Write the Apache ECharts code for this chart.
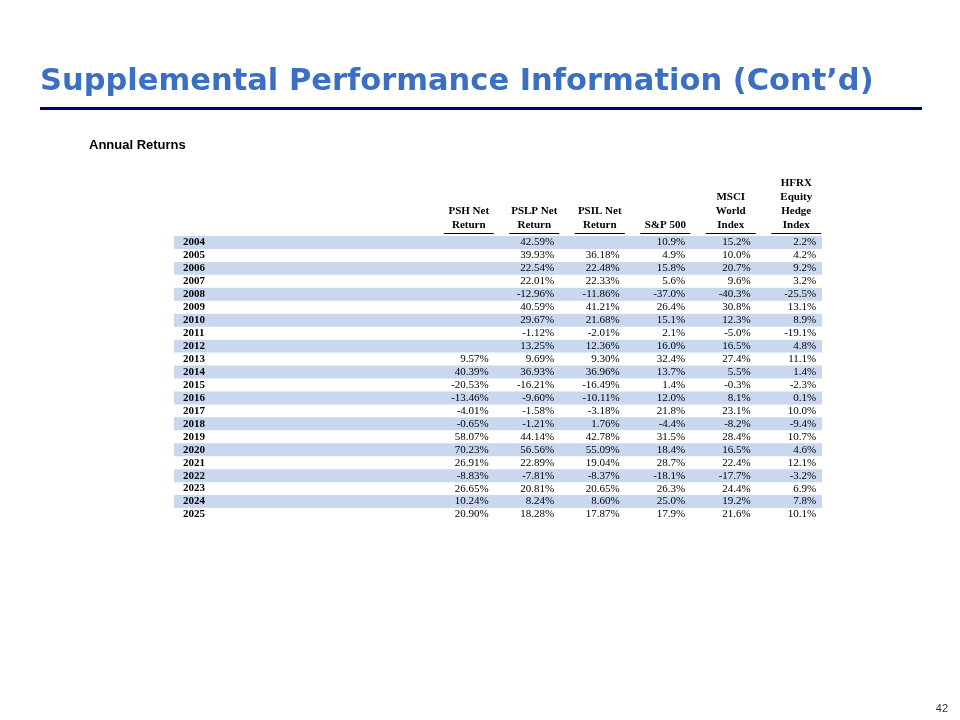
<!DOCTYPE html>
<html>
<head>
<meta charset="utf-8">
<script src="https://cdn.jsdelivr.net/npm/echarts@6/dist/echarts.min.js"></script>
<style>
  html, body { margin: 0; padding: 0; background: #fff; }
  #chart { width: 960px; height: 720px; }
</style>
</head>
<body>
<div id="chart"></div>
<script>
const years = ['2004', '2005', '2006', '2007', '2008', '2009', '2010', '2011', '2012', '2013', '2014',
  '2015', '2016', '2017', '2018', '2019', '2020', '2021', '2022', '2023', '2024', '2025'];
const columns = ['PSH Net\nReturn', 'PSLP Net\nReturn', 'PSIL Net\nReturn', 'S&P 500', 'MSCI\nWorld\nIndex', 'HFRX\nEquity\nHedge\nIndex'];

const pshNet = [null, null, null, null, null, null, null, null, null, 9.57, 40.39,
  -20.53, -13.46, -4.01, -0.65, 58.07, 70.23, 26.91, -8.83, 26.65, 10.24, 20.90];
const pslpNet = [42.59, 39.93, 22.54, 22.01, -12.96, 40.59, 29.67, -1.12, 13.25, 9.69, 36.93,
  -16.21, -9.60, -1.58, -1.21, 44.14, 56.56, 22.89, -7.81, 20.81, 8.24, 18.28];
const psilNet = [null, 36.18, 22.48, 22.33, -11.86, 41.21, 21.68, -2.01, 12.36, 9.30, 36.96,
  -16.49, -10.11, -3.18, 1.76, 42.78, 55.09, 19.04, -8.37, 20.65, 8.60, 17.87];
const sp500 = [10.9, 4.9, 15.8, 5.6, -37.0, 26.4, 15.1, 2.1, 16.0, 32.4, 13.7,
  1.4, 12.0, 21.8, -4.4, 31.5, 18.4, 28.7, -18.1, 26.3, 25.0, 17.9];
const msciWorld = [15.2, 10.0, 20.7, 9.6, -40.3, 30.8, 12.3, -5.0, 16.5, 27.4, 5.5,
  -0.3, 8.1, 23.1, -8.2, 28.4, 16.5, 22.4, -17.7, 24.4, 19.2, 21.6];
const hfrxEquityHedge = [2.2, 4.2, 9.2, 3.2, -25.5, 13.1, 8.9, -19.1, 4.8, 11.1, 1.4,
  -2.3, 0.1, 10.0, -9.4, 10.7, 4.6, 12.1, -3.2, 6.9, 7.8, 10.1];

const columnValues = [pshNet, pslpNet, psilNet, sp500, msciWorld, hfrxEquityHedge];
const decimals = [2, 2, 2, 1, 1, 1];

const serif = "'Times New Roman', 'Liberation Serif', serif";
const sans = "Arial, 'Liberation Sans', sans-serif";

// one item per filled cell: [column, row, value]
const cells = [];
columnValues.forEach((vals, c) => {
  vals.forEach((v, r) => {
    if (v !== null) cells.push([c, r, v]);
  });
});

const chart = echarts.init(document.getElementById('chart'));

const option = {
  backgroundColor: '#fff',
  animation: false,
  title: [
    {
      text: 'Supplemental Performance Information (Cont\u2019d)',
      left: 40,
      top: 67,
      padding: 0,
      textStyle: { fontFamily: "'DejaVu Sans', sans-serif", fontSize: 30.5, fontWeight: 'bold', color: '#3b6fc2' }
    },
    {
      text: 'Annual Returns',
      left: 89,
      top: 139,
      padding: 0,
      textStyle: { fontFamily: sans, fontSize: 13, fontWeight: 'bold', color: '#000' }
    },
    {
      text: '42',
      right: 12,
      top: 703,
      padding: 0,
      textStyle: { fontFamily: sans, fontSize: 11, fontWeight: 'normal', color: '#333' }
    }
  ],
  graphic: [
    {
      type: 'rect',
      shape: { x: 40, y: 107, width: 882, height: 3 },
      style: { fill: '#000080' }
    }
  ],
  grid: [
    { left: 174, right: 138, top: 236, height: 285 },
    { left: 436, width: 393, top: 236, height: 285 }
  ],
  xAxis: [
    { type: 'value', gridIndex: 0, min: 0, max: 1, show: false },
    {
      type: 'category',
      gridIndex: 1,
      data: columns,
      position: 'top',
      axisLine: { show: false },
      axisTick: { show: false },
      splitLine: { show: false },
      axisLabel: {
        interval: 0,
        margin: 1,
        fontFamily: serif,
        fontSize: 11,
        fontWeight: 'bold',
        lineHeight: 14,
        color: '#000',
        formatter: v => v + '\n{u|}',
        rich: {
          u: { width: 50, height: 1, lineHeight: 3, backgroundColor: '#000' }
        }
      }
    }
  ],
  yAxis: [
    {
      type: 'category',
      gridIndex: 0,
      data: years,
      inverse: true,
      axisLine: { show: false },
      axisTick: { show: false, interval: 0 },
      splitLine: { show: false },
      splitArea: {
        show: true,
        interval: 0,
        areaStyle: { color: ['#c9d8ef', 'rgba(255,255,255,0)'] }
      },
      axisLabel: {
        inside: true,
        interval: 0,
        margin: 9,
        fontFamily: serif,
        fontSize: 11,
        fontWeight: 'bold',
        color: '#000'
      }
    },
    {
      type: 'category',
      gridIndex: 1,
      data: years,
      inverse: true,
      show: false
    }
  ],
  series: [
    {
      type: 'custom',
      xAxisIndex: 1,
      yAxisIndex: 1,
      data: cells,
      encode: { x: 0, y: 1 },
      renderItem: (params, api) => {
        const c = api.value(0);
        const v = api.value(2);
        const pt = api.coord([c, api.value(1)]);
        return {
          type: 'text',
          style: {
            x: pt[0] + 20,
            y: pt[1],
            text: v.toFixed(decimals[c]) + '%',
            align: 'right',
            verticalAlign: 'middle',
            font: '11px ' + serif,
            fill: '#000'
          }
        };
      }
    }
  ]
};

chart.setOption(option);
</script>
</body>
</html>
